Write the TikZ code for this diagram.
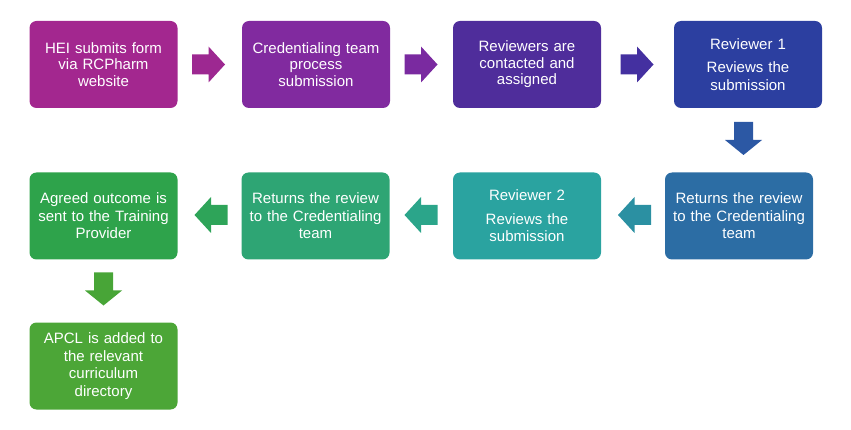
\documentclass[tikz,border=0pt]{standalone}
\usepackage{fontspec}
\setmainfont{Liberation Sans}
\definecolor{cA}{HTML}{A3278F}
\definecolor{cB}{HTML}{812A9F}
\definecolor{cC}{HTML}{4F2D9B}
\definecolor{cD}{HTML}{2C3FA0}
\definecolor{cE}{HTML}{2C6DA4}
\definecolor{cF}{HTML}{2AA3A0}
\definecolor{cG}{HTML}{2EA574}
\definecolor{cH}{HTML}{2EA34B}
\definecolor{cI}{HTML}{4CA637}
\definecolor{aA}{HTML}{9D2891}
\definecolor{aB}{HTML}{7A2AA0}
\definecolor{aC}{HTML}{4430A0}
\definecolor{aD}{HTML}{2C58A4}
\definecolor{aE}{HTML}{2B90A2}
\definecolor{aF}{HTML}{2BA58A}
\definecolor{aG}{HTML}{2EA459}
\definecolor{aH}{HTML}{48A537}
\tikzset{
  box/.style={rounded corners=7pt, minimum width=148pt, minimum height=87pt,
    text width=140pt, align=center, text=white, inner sep=0pt,
    font=\fontsize{15}{16.5}\selectfont},
  boxb/.style={box, font=\fontsize{15}{17.5}\selectfont},
}
\newcommand{\rarr}[2]{\fill[#2, shift={(#1)}] (-16.5,-10)--(0,-10)--(0,-18)--(16.5,0)--(0,18)--(0,10)--(-16.5,10)--cycle;}
\newcommand{\larr}[2]{\fill[#2, shift={(#1)}] (16.5,-10)--(0,-10)--(0,-18)--(-16.5,0)--(0,18)--(0,10)--(16.5,10)--cycle;}
\newcommand{\darr}[2]{\fill[#2, shift={(#1)}] (-9.5,-16.5)--(-9.5,1.5)--(-18.5,1.5)--(0,16.5)--(18.5,1.5)--(9.5,1.5)--(9.5,-16.5)--cycle;}
\begin{document}
\begin{tikzpicture}[x=1pt,y=-1pt]
\useasboundingbox (0,0) rectangle (851,430);
\node[box, fill=cA] (b1) at (103.5,64.5) {HEI submits form\\via RCPharm\\website};
\node[box, fill=cB] (b2) at (316,64.5) {Credentialing team\\process\\submission};
\node[box, fill=cC] (b3) at (527,64.5) {Reviewers are\\contacted and\\assigned};
\node[boxb, fill=cD] (b4) at (748,64.5) {Reviewer 1\\[6pt]Reviews the\\submission};
\node[boxb, fill=cE] (b5) at (739,216) {Returns the review\\to the Credentialing\\team};
\node[boxb, fill=cF] (b6) at (527,216) {Reviewer 2\\[6pt]Reviews the\\submission};
\node[boxb, fill=cG] (b7) at (315.5,216) {Returns the review\\to the Credentialing\\team};
\node[boxb, fill=cH] (b8) at (103.5,216) {Agreed outcome is\\sent to the Training\\Provider};
\node[boxb, fill=cI] (b9) at (103.5,366) {APCL is added to\\the relevant\\curriculum\\directory};
\coordinate (a1) at (208.5,64.5);
\coordinate (a2) at (421,64.5);
\coordinate (a3) at (637,64.5);
\coordinate (a4) at (743.5,138.5);
\coordinate (a5) at (634.5,215);
\coordinate (a6) at (421,215);
\coordinate (a7) at (211,215);
\coordinate (a8) at (103.5,289);
\rarr{a1}{aA}
\rarr{a2}{aB}
\rarr{a3}{aC}
\darr{a4}{aD}
\larr{a5}{aE}
\larr{a6}{aF}
\larr{a7}{aG}
\darr{a8}{aH}
\end{tikzpicture}
\end{document}
